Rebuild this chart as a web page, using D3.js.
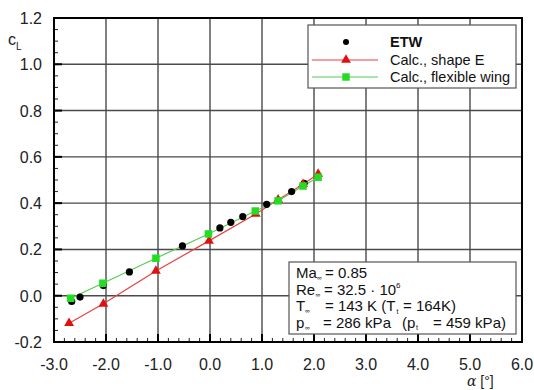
<!DOCTYPE html>
<html><head><meta charset="utf-8">
<script src="https://cdn.jsdelivr.net/npm/d3@7"></script>
<style>body{margin:0;background:#fff}svg{display:block;font-family:"Liberation Sans",Arial,sans-serif}</style>
</head><body><svg id="c" width="534" height="390"></svg>
<script>
const xTicks = [-3,-2,-1,0,1,2,3,4,5,6];
const xTickLabels = ["-3.0","-2.0","-1.0","0.0","1.0","2.0","3.0","4.0","5.0","6.0"];
const yTicks = [-0.2,0,0.2,0.4,0.6,0.8,1.0,1.2];
const yTickLabels = ["-0.2","0.0","0.2","0.4","0.6","0.8","1.0","1.2"];
const etwAlpha = [-2.66,-2.50,-2.05,-1.55,-0.53,0.19,0.40,0.63,1.09,1.57,1.81];
const etwCL = [-0.025,-0.006,0.044,0.103,0.215,0.293,0.317,0.342,0.395,0.450,0.486];
const shapeEAlpha = [-2.71,-2.05,-1.04,-0.02,0.88,1.31,1.79,2.08];
const shapeECL = [-0.119,-0.035,0.107,0.237,0.353,0.415,0.482,0.526];
const flexAlpha = [-2.68,-2.06,-1.04,-0.03,0.87,1.31,1.79,2.08];
const flexCL = [-0.011,0.054,0.162,0.267,0.366,0.410,0.474,0.512];
const legendLabels = ["ETW","Calc., shape E","Calc., flexible wing"];

const svg = d3.select("#c");
const L=54,R=522,T=18,B=342;
const x = d3.scaleLinear().domain([-3,6]).range([L,R]);
const y = d3.scaleLinear().domain([-0.2,1.2]).range([B,T]);

// grid
const g = svg.append("g");
g.selectAll(".gx").data(xTicks.slice(1,-1)).enter().append("line")
 .attr("x1",d=>x(d)).attr("x2",d=>x(d)).attr("y1",T).attr("y2",B)
 .attr("stroke","#4a4a4a").attr("stroke-width",1.4);
g.selectAll(".gy").data(yTicks.slice(1,-1)).enter().append("line")
 .attr("y1",d=>y(d)).attr("y2",d=>y(d)).attr("x1",L).attr("x2",R)
 .attr("stroke","#4a4a4a").attr("stroke-width",1.4);

// minor ticks
const xMinor = d3.range(-3,6.001,0.2).map(v=>+v.toFixed(2));
g.selectAll(".mx").data(xMinor).enter().append("line")
 .attr("x1",d=>x(d)).attr("x2",d=>x(d)).attr("y1",B).attr("y2",B-4)
 .attr("stroke","#222").attr("stroke-width",1);
const yMinor = d3.range(-0.2,1.2001,0.05).map(v=>+v.toFixed(3));
g.selectAll(".my").data(yMinor).enter().append("line")
 .attr("y1",d=>y(d)).attr("y2",d=>y(d)).attr("x1",L).attr("x2",L+4)
 .attr("stroke","#222").attr("stroke-width",1);
// major ticks
g.selectAll(".Mx").data(xTicks).enter().append("line")
 .attr("x1",d=>x(d)).attr("x2",d=>x(d)).attr("y1",B).attr("y2",B-8)
 .attr("stroke","#000").attr("stroke-width",2);
g.selectAll(".My").data(yTicks).enter().append("line")
 .attr("y1",d=>y(d)).attr("y2",d=>y(d)).attr("x1",L).attr("x2",L+8)
 .attr("stroke","#000").attr("stroke-width",2);

// frame
svg.append("rect").attr("x",L).attr("y",T).attr("width",R-L).attr("height",B-T)
 .attr("fill","none").attr("stroke","#000").attr("stroke-width",2);

// tick labels
svg.selectAll(".xl").data(xTicks).enter().append("text")
 .attr("x",d=>x(d)).attr("y",370).attr("text-anchor","middle")
 .attr("font-size",16).attr("fill","#222").text((d,i)=>xTickLabels[i]);
svg.selectAll(".yl").data(yTicks).enter().append("text")
 .attr("x",42).attr("y",d=>y(d)+6).attr("text-anchor","end")
 .attr("font-size",16).attr("fill","#222").text((d,i)=>yTickLabels[i]);

// axis titles
const yt = svg.append("text").attr("x",8).attr("y",45).attr("font-size",16).attr("fill","#222");
yt.append("tspan").text("c");
yt.append("tspan").attr("font-size",10).attr("dy",5).text("L");
svg.append("text").attr("x",467).attr("y",385.5).attr("font-size",14).attr("fill","#222")
 .attr("font-family","DejaVu Serif").attr("font-style","italic").text("α")
 .append("tspan").attr("font-family","Liberation Sans").attr("font-style","normal").text(" [°]");

// data
const line = d3.line().x(d=>x(d[0])).y(d=>y(d[1]));
const redC = "#e01010", redL="#e84040", grnC="#22dd22", grnL="#55cc55";
const shapeE = shapeEAlpha.map((a,i)=>[a,shapeECL[i]]);
const flex = flexAlpha.map((a,i)=>[a,flexCL[i]]);
const etw = etwAlpha.map((a,i)=>[a,etwCL[i]]);
svg.append("path").attr("d",line(shapeE)).attr("fill","none").attr("stroke",redL).attr("stroke-width",1.2);
svg.append("path").attr("d",line(flex)).attr("fill","none").attr("stroke",grnL).attr("stroke-width",1.2);
const tri = d3.symbol().type(d3.symbolTriangle).size(42);
const sq = d3.symbol().type(d3.symbolSquare).size(56);
svg.selectAll(".etw").data(etw).enter().append("circle")
 .attr("cx",d=>x(d[0])).attr("cy",d=>y(d[1])).attr("r",3.6).attr("fill","#000");
svg.selectAll(".se").data(shapeE).enter().append("path").attr("d",tri)
 .attr("transform",d=>`translate(${x(d[0])},${y(d[1])})`).attr("fill",redC);
svg.selectAll(".fw").data(flex).enter().append("path").attr("d",sq)
 .attr("transform",d=>`translate(${x(d[0])},${y(d[1])})`).attr("fill",grnC);

// legend
const lg = svg.append("g");
lg.append("rect").attr("x",308).attr("y",25).attr("width",208).attr("height",63)
 .attr("fill","#fff").attr("stroke","#555").attr("stroke-width",1.2);
const ly = [42,60,77];
lg.append("circle").attr("cx",346).attr("cy",ly[0]).attr("r",3).attr("fill","#000");
lg.append("line").attr("x1",312).attr("x2",378).attr("y1",ly[1]).attr("y2",ly[1]).attr("stroke",redL).attr("stroke-width",1.2);
lg.append("path").attr("d",tri).attr("transform",`translate(346,${ly[1]})`).attr("fill",redC);
lg.append("line").attr("x1",312).attr("x2",378).attr("y1",ly[2]).attr("y2",ly[2]).attr("stroke",grnL).attr("stroke-width",1.2);
lg.append("path").attr("d",sq).attr("transform",`translate(346,${ly[2]})`).attr("fill",grnC);
lg.selectAll(".lt").data(legendLabels).enter().append("text")
 .attr("x",390).attr("y",(d,i)=>ly[i]+5).attr("font-size",14.5).attr("fill","#111")
 .attr("font-weight",(d,i)=>i===0?"bold":"normal").text(d=>d);

// info box
const ib = svg.append("g");
ib.append("rect").attr("x",289).attr("y",262).attr("width",227).attr("height",72)
 .attr("fill","#fff").attr("stroke","#555").attr("stroke-width",1.2);
const fs=15;
function put(px, py, s, size){ return ib.append("text").attr("x",px).attr("y",py).attr("font-size",size||fs).attr("fill","#111").text(s); }
// line 1
put(296,278,"Ma"); put(317,280,"∞",6.5); put(325,278,"= 0.85");
// line 2
put(296,294.5,"Re"); put(315.5,296.5,"∞",6.5); put(324,294.5,"= 32.5 · 10"); put(396,287.5,"6",8);
// line 3
put(296,311,"T"); put(305,313,"∞",6.5); put(325,311,"= 143 K (T"); put(396.5,313.5,"t",7); put(403,311,"= 164K)");
// line 4
put(296,327.5,"p"); put(305,329.5,"∞",6.5); put(323,327.5,"= 286 kPa"); put(402,327.5,"(p"); put(416,330,"t",7); put(433,327.5,"= 459 kPa)");
</script></body></html>
